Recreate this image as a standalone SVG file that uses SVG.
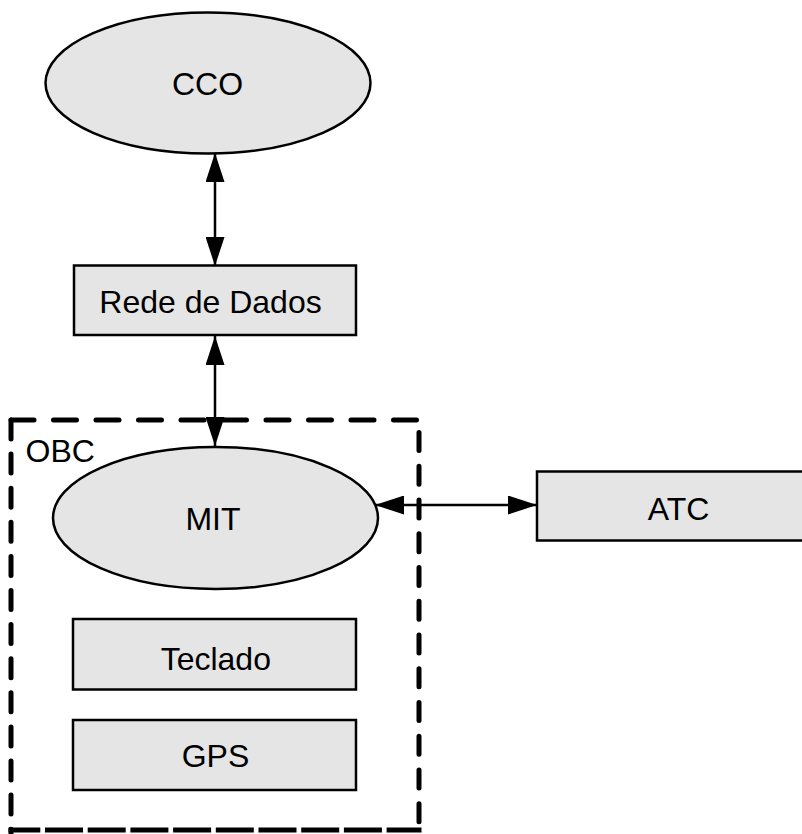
<svg xmlns="http://www.w3.org/2000/svg" width="802" height="834" viewBox="0 0 802 834">
<style>
.shape{fill:#e5e5e5;stroke:#000;stroke-width:2.5}
.lbl{font-family:"Liberation Sans",Arial,sans-serif;font-size:32px;fill:#000;text-anchor:middle}
.conn{stroke:#000;stroke-width:2.5;fill:none;marker-start:url(#ah);marker-end:url(#ah)}
.dash{stroke:#000;stroke-width:5;fill:none}
</style>
<defs>
<marker id="ah" markerUnits="userSpaceOnUse" markerWidth="29" markerHeight="19" refX="29" refY="9.5" orient="auto-start-reverse">
<path d="M0,0 L29,9.5 L0,19 z" fill="#000"/>
</marker>
</defs>
<g id="OBC">
<line class="dash" x1="11" y1="420" x2="421" y2="420" stroke-linecap="round" stroke-dasharray="23 19.5"/>
<line class="dash" x1="11" y1="420" x2="11" y2="834" stroke-linecap="round" stroke-dasharray="19 15.1"/>
<line class="dash" x1="419" y1="432.5" x2="419" y2="834" stroke-linecap="round" stroke-dasharray="18 15.75"/>
<line class="dash" x1="8.5" y1="830" x2="421.5" y2="830" stroke-dasharray="38 4.7" stroke-dashoffset="6.2"/>
<text x="25.5" y="462" font-family="Liberation Sans, Arial, sans-serif" font-size="32">OBC</text>
</g>
<g id="connectors">
<line class="conn" x1="215" y1="153" x2="215" y2="266"/>
<line class="conn" x1="215" y1="336" x2="215" y2="446"/>
<line class="conn" x1="375" y1="505" x2="537" y2="505"/>
</g>
<g id="CCO">
<ellipse class="shape" cx="208" cy="83" rx="162.5" ry="70.5"/>
<text class="lbl" x="207.5" y="95">CCO</text>
</g>
<g id="RedeDeDados">
<rect class="shape" x="74" y="265.5" width="282" height="69.5"/>
<text class="lbl" x="210.5" y="313">Rede de Dados</text>
</g>
<g id="MIT">
<ellipse class="shape" cx="215.5" cy="518" rx="162.5" ry="71"/>
<text class="lbl" x="213" y="530">MIT</text>
</g>
<g id="ATC">
<rect class="shape" x="537" y="471.5" width="283" height="69"/>
<text class="lbl" x="678.5" y="520">ATC</text>
</g>
<g id="Teclado">
<rect class="shape" x="73" y="619" width="283" height="70.5"/>
<text class="lbl" x="215.8" y="670">Teclado</text>
</g>
<g id="GPS">
<rect class="shape" x="73" y="720" width="283" height="70"/>
<text class="lbl" x="215.5" y="767">GPS</text>
</g>
</svg>
